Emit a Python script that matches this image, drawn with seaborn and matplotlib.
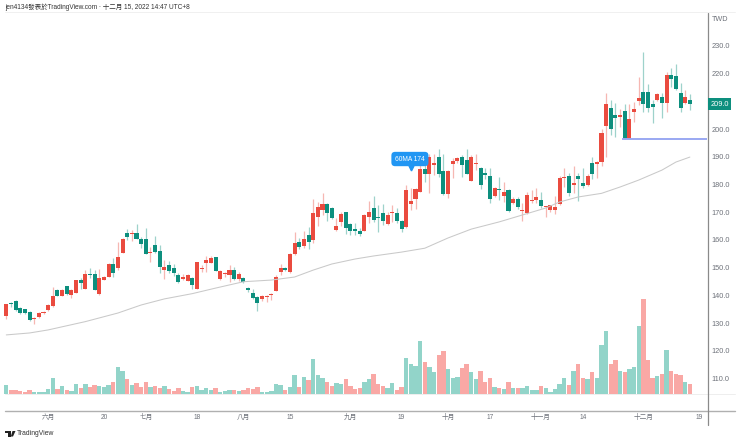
import matplotlib
matplotlib.use("Agg")
import matplotlib.pyplot as plt
from matplotlib.lines import Line2D
from matplotlib.patches import Polygon
import numpy as np
import pandas as pd
import seaborn as sns

# candles
open_ = [132.5,137.4,137.9,135.5,134.9,134.0,131.3,132.0,133.6,134.6,136.0,141.9,139.9,143.2,140.0,140.9,145.7,142.4,147.7,147.8,
         140.5,145.7,146.6,151.2,149.7,155.4,162.4,162.2,162.5,160.3,160.4,155.4,158.3,155.9,149.1,150.8,149.8,147.3,145.9,145.3,
         146.2,142.3,149.4,151.8,151.8,153.8,145.8,147.6,147.2,149.2,145.8,146.4,142.8,140.7,139.3,138.8,139.3,140.0,141.7,148.3,
         149.9,148.3,154.8,159.4,157.8,161.8,159.8,168.3,170.8,172.9,171.5,163.7,166.3,169.9,165.8,163.8,163.3,163.3,168.3,171.4,
         168.3,169.8,165.9,169.8,169.8,166.8,164.8,173.0,174.8,177.4,185.5,183.9,186.9,189.8,184.9,176.5,187.4,188.4,190.0,189.0,
         181.4,187.5,186.0,183.9,183.0,176.0,178.4,176.0,177.9,173.3,174.8,170.4,169.8,174.0,174.4,174.4,171.8,170.8,170.8,173.0,
         182.3,183.1,180.0,183.1,180.4,179.8,187.9,187.5,188.0,201.0,207.5,205.0,204.5,206.5,196.4,206.1,210.0,213.5,213.5,209.0,
         210.5,211.6,209.5,219.5,219.0,213.0,209.5,210.5]
high = [137.0,137.7,138.2,135.8,135.1,134.4,132.2,133.8,134.5,136.8,142.9,142.2,142.4,143.5,142.2,145.7,146.1,149.1,149.7,149.1,
        149.5,147.0,151.5,153.6,159.3,160.7,163.8,163.6,165.7,161.2,164.4,157.6,161.5,158.2,152.7,152.5,151.3,148.0,147.7,147.7,
        146.5,152.1,150.9,154.2,154.2,153.9,149.0,148.5,150.8,150.1,148.5,146.7,143.1,142.1,139.7,140.0,140.0,140.7,147.2,151.3,
        150.1,155.1,162.8,160.6,163.3,164.8,174.8,173.8,176.8,173.2,171.7,167.8,170.2,170.2,166.0,166.0,164.2,169.2,174.0,175.9,
        172.6,173.0,170.2,172.6,171.4,167.2,179.8,178.6,178.9,190.1,187.1,191.0,191.0,192.8,190.9,185.2,189.5,190.1,190.7,192.8,
        190.7,191.0,186.4,185.8,185.8,179.2,182.8,181.0,178.3,175.4,175.4,173.2,177.4,178.0,178.6,177.2,172.2,172.6,175.9,183.1,
        185.8,184.3,186.7,184.3,185.8,183.7,189.8,188.6,199.9,212.9,210.5,209.3,207.1,209.0,209.1,209.9,218.9,228.0,216.2,210.5,
        212.9,212.9,220.7,222.0,223.5,216.5,214.1,212.7]
low = [131.5,135.9,134.2,133.2,133.2,130.6,129.6,131.9,133.2,134.4,135.7,139.6,139.6,140.0,139.1,140.7,142.4,142.3,146.1,142.0,
       140.2,145.5,146.5,146.5,149.1,155.2,160.0,159.7,160.2,157.0,154.9,152.2,155.2,147.9,146.0,147.9,147.0,144.3,145.5,145.0,
       142.4,142.2,148.5,148.5,151.5,148.8,145.6,146.5,144.9,145.5,145.3,144.3,141.3,138.8,134.5,138.1,137.7,138.3,141.4,147.3,
       148.8,148.2,154.5,156.8,156.9,156.8,158.8,165.0,169.0,166.9,167.4,163.2,165.0,162.0,161.6,161.9,161.5,163.1,166.0,166.6,
       163.0,165.4,165.4,166.6,166.2,163.0,164.4,170.8,171.0,177.3,181.0,177.1,183.4,182.8,176.2,175.0,182.2,187.9,182.6,183.7,
       181.3,185.2,178.3,181.9,173.2,175.6,174.4,173.8,170.2,173.0,171.0,167.0,169.4,173.2,173.2,171.4,168.4,170.0,169.4,172.6,
       179.2,176.0,176.8,174.1,178.6,179.6,181.9,182.2,186.5,190.1,197.9,197.3,200.7,196.3,196.3,202.7,208.7,206.3,206.0,202.1,
       210.3,204.1,206.1,215.3,214.1,206.3,209.1,206.9]
close = [136.8,137.0,134.6,133.6,133.5,131.1,131.8,133.5,134.1,136.6,139.9,139.9,141.9,140.3,141.9,145.4,144.3,147.8,147.3,142.0,
         146.4,146.7,151.2,148.2,153.7,160.4,160.9,162.6,160.4,158.4,155.0,155.7,155.7,150.1,150.2,148.8,148.2,144.7,146.6,147.3,
         143.6,151.9,149.7,152.7,153.3,148.9,148.9,147.9,149.2,145.8,147.7,144.7,141.8,139.1,137.2,139.7,139.6,140.3,146.7,149.9,
         149.1,154.8,158.9,157.3,160.2,159.2,169.8,171.7,172.9,169.8,167.8,164.9,169.5,164.3,163.3,163.3,162.1,168.9,169.9,167.3,
         167.9,166.8,168.9,170.2,166.8,163.8,177.9,174.0,178.4,185.5,183.9,189.8,187.9,183.9,176.5,184.9,188.4,189.5,186.9,183.9,
         190.0,187.9,180.0,183.6,174.9,178.9,177.9,177.4,170.4,174.8,171.9,170.8,176.3,174.4,175.4,172.4,172.0,172.6,171.8,182.5,
         182.6,177.0,180.4,181.9,179.4,183.1,183.8,188.0,198.6,209.1,199.9,204.0,205.0,196.4,203.5,207.1,211.1,209.0,207.5,208.0,
         212.6,209.5,219.5,218.0,214.5,207.5,211.6,209.0]
volume = [9,4,4,3.3,2,3.7,2.3,2.3,2,4.7,16,4.7,8,4,3.3,10,6,9.7,7,9.3,
          8,7,9.3,11.7,27,22.7,15.3,9,11.3,6.7,12,7.3,7.7,6,7.7,5.3,2.7,5.7,2.7,2,
          6.7,7.7,4,6,4,5.7,2.3,3,4.3,4,3,3.7,5.7,4.7,7.3,2.3,2,2.7,10,9,
          4,6.7,18.7,6.7,16.7,14.3,35.3,18.7,16.3,12,8,11,10,14.7,8,5,6,12,15.3,20.3,
          10,8.3,5.7,10.7,3.7,7,35.7,30.3,28,52.7,32.3,27,22,39.3,43.3,25,16,17,25.7,30,
          22,15.3,23,12,16,6.7,6,5.3,12.3,5.7,6.3,6.3,8,4.3,4,8,6,2,5,10,
          16,9,23,30.3,15.7,14.7,22,16,49,63.3,29.7,34,22.7,22.3,24.7,26.7,68,95.3,34.3,16.3,
          18,19.7,44,22.7,19.7,19,12,9.7]

# 60MA, sampled along the line
ma_days = [0,5,9,17,24,29,34,40,45,51,57,62,66,70,75,79,85,90,95,100,106,111,116,119,123,128,132,136,141,144,147]
ma_values = [125.7,126.4,127.5,130.5,133.6,136.5,138.7,140.6,142.6,144.9,145.5,146.6,149.1,151.3,153.1,154.2,155.6,157.0,
             160.7,163.9,166.5,169.0,171.5,173.7,175.5,176.8,179.1,181.6,185.2,188.1,189.9]

# 210 sits behind the last price tag, so it is not in the list
price_ticks = [110,120,130,140,150,160,170,180,190,200,220,230]
date_ticks = [9,21,30,41,51,61,74,85,95,104,115,124,137,149]
date_labels = ["六月","20","七月","18","八月","15","九月","19","十月","17","十一月","14","十二月","19"]

RED = "#ea4b3f"
TEAL = "#0d8f7e"
VOL_TEAL = "#92d4c9"
VOL_RED = "#f9a8a5"
GREY = "#6e727a"

df = pd.DataFrame({"day": np.arange(len(close)), "open": open_, "high": high, "low": low,
                   "close": close, "volume": volume})
df["up"] = df["close"] >= df["open"]
# candles are red when up, the volume colours stay the other way round
df["vol_side"] = np.where(df["up"], "a", "b")

sns.set_theme(style="white")
plt.rcParams["font.family"] = ["Liberation Sans", "Noto Sans CJK TC", "DejaVu Sans"]

W, H = 740, 442
fig = plt.figure(figsize=(W / 100, H / 100), dpi=100, facecolor="white")
rect = [0, (H - 410) / H, 707 / W, (410 - 12) / H]
xlim = ((0 - 6.3) / 4.65, (707 - 6.3) / 4.65)

# volume goes on its own axes underneath the price panel
ax_vol = fig.add_axes(rect, zorder=1)
sns.barplot(data=df, x="day", y="volume", hue="vol_side", hue_order=["a", "b"],
            palette={"a": VOL_TEAL, "b": VOL_RED}, native_scale=True, dodge=False,
            width=0.94, errorbar=None, legend=False, ax=ax_vol, linewidth=0, saturation=1)
ax_vol.set_xlim(*xlim)
ax_vol.set_ylim(-16, 382)
ax_vol.axis("off")

ax = fig.add_axes(rect, zorder=2)
ax.patch.set_alpha(0)
colors = np.where(df["up"], RED, TEAL)
ax.vlines(df["day"], df["low"], df["high"], colors=colors, lw=0.9, alpha=0.4)
ax.bar(df["day"], (df["close"] - df["open"]).abs().clip(lower=0.4),
       bottom=df[["open", "close"]].min(axis=1), width=0.88, color=colors, linewidth=0)

sns.lineplot(x=ma_days, y=ma_values, color="#c9c9c9", lw=0.75, ax=ax)

ax.hlines(196.4, 132.4, 150.7, color="#9aa8f2", lw=1.4)

ax.set_xlim(*xlim)
ax.set_ylim(230 - (410 - 46) / 2.77, 230 + (46 - 12) / 2.77)
ax.yaxis.tick_right()
ax.set_yticks(price_ticks, [f"{t}.0" for t in price_ticks])
ax.set_xticks(date_ticks, date_labels)
ax.tick_params(axis="y", length=0, pad=3.5, labelsize=5.3, labelcolor=GREY)
ax.tick_params(axis="x", length=0, pad=5.2, labelsize=4.8, labelcolor=GREY)
# centre them, the CJK and digit labels otherwise sit at different heights
for t in ax.get_xticklabels():
    t.set_va("center")
for side in ["left", "top", "bottom", "right"]:
    ax.spines[side].set_visible(False)

# MA callout and last price tag
ax.text(86.8, 189.2, "60MA 174", color="white", fontsize=4.8, ha="center", va="center", zorder=6,
        bbox=dict(boxstyle="round,pad=0.55", fc="#2196f3", ec="none"))
ax.plot([87], [186.0], marker="v", ms=3.5, color="#2196f3", zorder=5)
ax.text(1.0 + 12.5 / 707, 209, "209.0", transform=ax.get_yaxis_transform(), color="white", fontsize=5.3,
        ha="center", va="center", clip_on=False, zorder=6,
        bbox=dict(boxstyle="square,pad=0.3", fc=TEAL, ec="none"))
fig.text(712 / W, 1 - 19.5 / H, "TWD", fontsize=5.2, color=GREY, va="center")

# frame lines
fig.add_artist(Line2D([5 / W, 735 / W], [1 - 394 / H] * 2, color="#eeeeee", lw=0.7, transform=fig.transFigure, zorder=0))
fig.add_artist(Line2D([5 / W, 735 / W], [1 - 411 / H] * 2, color="#b0b0b0", lw=1, transform=fig.transFigure))
fig.add_artist(Line2D([707.5 / W] * 2, [1 - 13 / H, 1 - 425 / H], color="#8a8a8a", lw=0.9, transform=fig.transFigure))
fig.add_artist(Line2D([5 / W, 735 / W], [1 - 12 / H] * 2, color="#f0f0f0", lw=0.7, transform=fig.transFigure))

fig.text(5 / W, 1 - 7.5 / H, "jen4134發表於TradingView.com · 十二月 15, 2022 14:47 UTC+8",
         fontsize=4.7, color="#333333", va="center")

# logo, roughly
def px(pts):
    return [(x / W, 1 - y / H) for x, y in pts]
fig.add_artist(Polygon(px([(5, 431), (10.5, 431), (10.5, 436.5), (8, 436.5), (8, 433), (5, 433)]),
                       closed=True, fc="#222222", ec="none", transform=fig.transFigure))
fig.add_artist(Polygon(px([(12.5, 431), (15.5, 431), (13, 436.5), (10.8, 436.5)]),
                       closed=True, fc="#222222", ec="none", transform=fig.transFigure))
fig.text(17 / W, 1 - 433.7 / H, "TradingView", fontsize=4.9, color="#333333", va="center")

fig.savefig("out.png", dpi=100, facecolor="white")
